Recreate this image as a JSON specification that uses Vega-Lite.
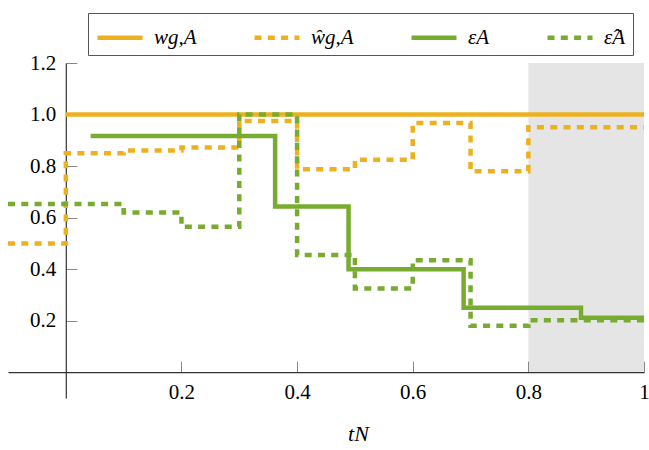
{
  "$schema": "https://vega.github.io/schema/vega-lite/v6.json",
  "width": 636,
  "height": 335,
  "autosize": {"type": "none"},
  "padding": {"left": 8, "top": 63, "right": 5, "bottom": 52},
  "config": {"view": {"stroke": null}, "font": "Liberation Serif"},
  "layer": [
    {
      "data": {"values": [{"x0": 0.8, "x1": 1, "y0": 0, "y1": 1.2}]},
      "mark": {"type": "rect", "fill": "#e5e5e5"},
      "encoding": {
        "x": {
          "field": "x0", "type": "quantitative",
          "scale": {"domain": [-0.1, 1], "nice": false, "zero": false},
          "axis": {
            "orient": "bottom", "offset": -25.8, "values": [0.2, 0.4, 0.6, 0.8, 1], "format": ".1~f",
            "tickSize": -11, "tickColor": "#888", "tickWidth": 1,
            "domainColor": "#333", "domainWidth": 1.2,
            "labelPadding": 20, "labelFontSize": 21, "labelColor": "#000", "labelFont": "Liberation Serif",
            "labelFlush": false, "labelOverlap": false, "grid": false, "zindex": 1,
            "title": "tN", "titleFont": "Liberation Serif", "titleFontStyle": "italic", "titleFontWeight": "normal",
            "titleFontSize": 22, "titleColor": "#000", "titleX": 350, "titleY": 68, "titleBaseline": "alphabetic", "titleAlign": "center"
          }
        },
        "x2": {"field": "x1"},
        "y": {
          "field": "y0", "type": "quantitative",
          "scale": {"domain": [-0.1, 1.2], "nice": false, "zero": false},
          "axis": {
            "orient": "left", "offset": -57.8, "values": [0.2, 0.4, 0.6, 0.8, 1.0, 1.2], "format": ".1f",
            "tickSize": -11, "tickColor": "#888", "tickWidth": 1,
            "domainColor": "#333", "domainWidth": 1.2,
            "labelPadding": 21, "labelFontSize": 21, "labelColor": "#000", "labelFont": "Liberation Serif",
            "labelFlush": false, "labelOverlap": false, "grid": false, "zindex": 0,
            "title": null
          }
        },
        "y2": {"field": "y1"}
      }
    },
    {
      "data": {
        "values": [
          {"s": "wg,A", "t": 0, "v": 1.0},
          {"s": "wg,A", "t": 1, "v": 1.0},
          {"s": "ŵg,A", "t": -0.1, "v": 0.5},
          {"s": "ŵg,A", "t": 0.0, "v": 0.85},
          {"s": "ŵg,A", "t": 0.1, "v": 0.86},
          {"s": "ŵg,A", "t": 0.2, "v": 0.872},
          {"s": "ŵg,A", "t": 0.3, "v": 0.975},
          {"s": "ŵg,A", "t": 0.4, "v": 0.788},
          {"s": "ŵg,A", "t": 0.5, "v": 0.825},
          {"s": "ŵg,A", "t": 0.6, "v": 0.967},
          {"s": "ŵg,A", "t": 0.7, "v": 0.78},
          {"s": "ŵg,A", "t": 0.8, "v": 0.951},
          {"s": "ŵg,A", "t": 1.0, "v": 0.951},
          {"s": "εA", "t": 0.043, "v": 0.917},
          {"s": "εA", "t": 0.362, "v": 0.643},
          {"s": "εA", "t": 0.489, "v": 0.4},
          {"s": "εA", "t": 0.688, "v": 0.25},
          {"s": "εA", "t": 0.891, "v": 0.211},
          {"s": "εA", "t": 1.0, "v": 0.211},
          {"s": "ε̂A", "t": -0.1, "v": 0.653},
          {"s": "ε̂A", "t": 0.1, "v": 0.62},
          {"s": "ε̂A", "t": 0.2, "v": 0.565},
          {"s": "ε̂A", "t": 0.3, "v": 1.0},
          {"s": "ε̂A", "t": 0.4, "v": 0.455},
          {"s": "ε̂A", "t": 0.5, "v": 0.325},
          {"s": "ε̂A", "t": 0.6, "v": 0.435},
          {"s": "ε̂A", "t": 0.7, "v": 0.18},
          {"s": "ε̂A", "t": 0.8, "v": 0.202},
          {"s": "ε̂A", "t": 1.0, "v": 0.202}
        ]
      },
      "mark": {"type": "line", "interpolate": "step-after", "strokeWidth": 4.5, "strokeCap": "butt", "clip": true},
      "encoding": {
        "x": {"field": "t", "type": "quantitative"},
        "y": {"field": "v", "type": "quantitative"},
        "color": {
          "field": "s", "type": "nominal",
          "scale": {"domain": ["wg,A", "ŵg,A", "εA", "ε̂A"], "range": ["#EDB120", "#EDB120", "#77AC30", "#77AC30"]},
          "legend": {
            "orient": "none", "legendX": 80, "legendY": -50, "direction": "horizontal", "columns": 4,
            "title": null, "strokeColor": "#555", "fillColor": "white", "padding": 7,
            "symbolType": "M-1,0H2", "symbolSize": 900, "symbolStrokeWidth": 4.5,
            "labelFont": "Liberation Serif", "labelFontSize": 21, "labelFontStyle": "italic", "labelColor": "#000",
            "labelOffset": 24, "columnPadding": 48
          }
        },
        "strokeDash": {
          "field": "s", "type": "nominal",
          "scale": {"domain": ["wg,A", "ŵg,A", "εA", "ε̂A"], "range": [[1, 0], [7, 6.3], [1, 0], [7, 6.3]]}
        }
      }
    }
  ]
}
